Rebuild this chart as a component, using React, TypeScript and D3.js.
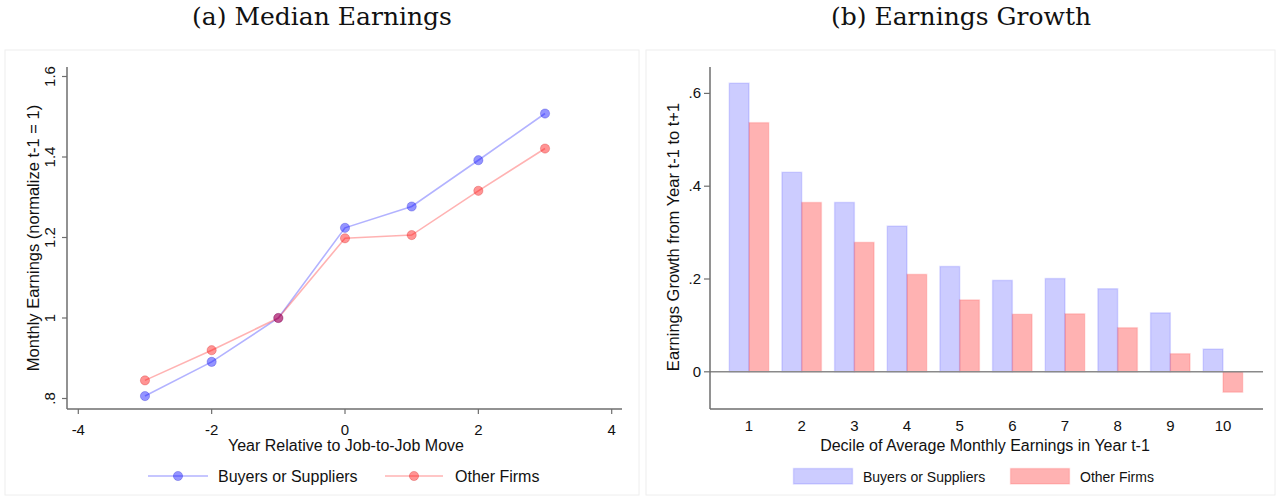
import React from "react";
import * as d3 from "d3";

// ---- Data ----
const years = [-3, -2, -1, 0, 1, 2, 3];
const buyersEarnings = [0.806, 0.891, 1.0, 1.224, 1.277, 1.392, 1.508];
const otherEarnings = [0.845, 0.92, 1.0, 1.198, 1.206, 1.316, 1.421];

const deciles = [1, 2, 3, 4, 5, 6, 7, 8, 9, 10];
const buyersGrowth = [0.622, 0.43, 0.365, 0.314, 0.227, 0.197, 0.201, 0.179, 0.127, 0.049];
const otherGrowth = [0.537, 0.365, 0.279, 0.21, 0.155, 0.124, 0.125, 0.095, 0.039, -0.044];

const leftXTicks = [-4, -2, 0, 2, 4];
const leftYTicks = [0.8, 1, 1.2, 1.4, 1.6];
const leftYTickLabels = [".8", "1", "1.2", "1.4", "1.6"];
const rightYTicks = [0, 0.2, 0.4, 0.6];
const rightYTickLabels = ["0", ".2", ".4", ".6"];

const seriesNames = ["Buyers or Suppliers", "Other Firms"];

// ---- Styles ----
const SANS = "'Liberation Sans', Arial, sans-serif";
const SERIF = "'DejaVu Serif', serif";
const AXIS = "#6e6e6e";
const BLUE_LINE = "rgba(0,0,255,0.3)";
const RED_LINE = "rgba(255,0,0,0.3)";
const BLUE_MARK = "rgba(0,0,255,0.42)";
const RED_MARK = "rgba(255,0,0,0.42)";
const BLUE_FILL = "rgba(0,0,255,0.2)";
const RED_FILL = "rgba(255,0,0,0.3)";
const BLUE_STROKE = "rgba(0,0,255,0.12)";
const RED_STROKE = "rgba(255,0,0,0.12)";

export default function App() {
  // Left panel scales
  const xL = d3.scaleLinear().domain([-4, 4]).range([78.3, 611.7]);
  const yL = d3.scaleLinear().domain([0.8, 1.6]).range([398.5, 76.5]);
  const lineGen = d3
    .line<number>()
    .x((_, i) => xL(years[i]))
    .y((d) => yL(d));

  // Right panel scales
  const xR = d3
    .scaleBand<number>()
    .domain(deciles)
    .range([722.7, 1249.3])
    .paddingInner(0.25)
    .paddingOuter(0.125);
  const xSub = d3.scaleBand<string>().domain(["b", "o"]).range([0, xR.bandwidth()]);
  const yR = d3.scaleLinear().domain([0, 0.6]).range([371.8, 93.4]);

  const lAxisX = 67;
  const lAxisY = 409;
  const rAxisX = 710;
  const rAxisY = 409;

  return (
    <svg
      width={1277}
      height={496}
      style={{ position: "absolute", left: 0, top: 0, background: "#fff" }}
    >
      {/* Titles */}
      <text x={322} y={25} textAnchor="middle" fontFamily={SERIF} fontSize={25} fill="#111">
        (a) Median Earnings
      </text>
      <text x={961} y={25} textAnchor="middle" fontFamily={SERIF} fontSize={25} fill="#111">
        (b) Earnings Growth
      </text>

      {/* Panel frames */}
      <rect x={5} y={50} width={634} height={445} fill="none" stroke="#eeeeee" />
      <rect x={646} y={50} width={629} height={445} fill="none" stroke="#eeeeee" />

      {/* ---------- Left panel ---------- */}
      <line x1={lAxisX} x2={lAxisX} y1={67} y2={lAxisY} stroke={AXIS} strokeWidth={1.5} />
      <line x1={lAxisX} x2={622} y1={lAxisY} y2={lAxisY} stroke={AXIS} strokeWidth={1.5} />
      {leftYTicks.map((t, i) => (
        <g key={"ly" + t}>
          <line x1={lAxisX - 5} x2={lAxisX} y1={yL(t)} y2={yL(t)} stroke={AXIS} strokeWidth={1.2} />
          <text
            transform={`translate(54.5,${yL(t)}) rotate(-90)`}
            textAnchor="middle"
            fontFamily={SANS}
            fontSize={15}
            fill="#111"
          >
            {leftYTickLabels[i]}
          </text>
        </g>
      ))}
      {leftXTicks.map((t) => (
        <g key={"lx" + t}>
          <line x1={xL(t)} x2={xL(t)} y1={lAxisY} y2={lAxisY + 5} stroke={AXIS} strokeWidth={1.2} />
          <text x={xL(t)} y={435} textAnchor="middle" fontFamily={SANS} fontSize={15} fill="#111">
            {t < 0 ? "-" + Math.abs(t) : String(t)}
          </text>
        </g>
      ))}
      <text x={346} y={450.5} textAnchor="middle" fontFamily={SANS} fontSize={16} fill="#111">
        Year Relative to Job-to-Job Move
      </text>
      <text
        transform={`translate(39,238) rotate(-90)`}
        textAnchor="middle"
        fontFamily={SANS}
        fontSize={16.5}
        fill="#111"
      >
        Monthly Earnings (normalize t-1 = 1)
      </text>

      <path d={lineGen(buyersEarnings) || ""} fill="none" stroke={BLUE_LINE} strokeWidth={1.6} />
      <path d={lineGen(otherEarnings) || ""} fill="none" stroke={RED_LINE} strokeWidth={1.6} />
      {buyersEarnings.map((v, i) => (
        <circle key={"bm" + i} cx={xL(years[i])} cy={yL(v)} r={4.6} fill={BLUE_MARK} stroke="rgba(0,0,200,0.25)" strokeWidth={1} />
      ))}
      {otherEarnings.map((v, i) => (
        <circle key={"om" + i} cx={xL(years[i])} cy={yL(v)} r={4.6} fill={RED_MARK} stroke="rgba(200,0,0,0.25)" strokeWidth={1} />
      ))}

      {/* Left legend */}
      <line x1={148} x2={208} y1={476} y2={476} stroke={BLUE_LINE} strokeWidth={1.6} />
      <circle cx={178} cy={476} r={4.6} fill={BLUE_MARK} stroke="rgba(0,0,200,0.25)" />
      <text x={218} y={481.5} fontFamily={SANS} fontSize={16} fill="#111">
        {seriesNames[0]}
      </text>
      <line x1={385} x2={443} y1={476} y2={476} stroke={RED_LINE} strokeWidth={1.6} />
      <circle cx={414} cy={476} r={4.6} fill={RED_MARK} stroke="rgba(200,0,0,0.25)" />
      <text x={455} y={481.5} fontFamily={SANS} fontSize={16} fill="#111">
        {seriesNames[1]}
      </text>

      {/* ---------- Right panel ---------- */}
      {deciles.map((d, i) => {
        const x0 = xR(d) || 0;
        const bv = buyersGrowth[i];
        const ov = otherGrowth[i];
        return (
          <g key={"bar" + d}>
            <rect
              x={x0 + (xSub("b") || 0)}
              y={yR(Math.max(0, bv))}
              width={xSub.bandwidth()}
              height={Math.abs(yR(bv) - yR(0))}
              fill={BLUE_FILL}
              stroke={BLUE_STROKE}
              strokeWidth={1.5}
            />
            <rect
              x={x0 + (xSub("o") || 0)}
              y={yR(Math.max(0, ov))}
              width={xSub.bandwidth()}
              height={Math.abs(yR(ov) - yR(0))}
              fill={RED_FILL}
              stroke={RED_STROKE}
              strokeWidth={1.5}
            />
            <text
              x={x0 + xR.bandwidth() / 2}
              y={431}
              textAnchor="middle"
              fontFamily={SANS}
              fontSize={15}
              fill="#111"
            >
              {d}
            </text>
          </g>
        );
      })}
      <line x1={rAxisX} x2={1263} y1={yR(0)} y2={yR(0)} stroke="#8a8a8a" strokeWidth={1.5} />
      <line x1={rAxisX} x2={rAxisX} y1={67} y2={rAxisY} stroke={AXIS} strokeWidth={1.5} />
      <line x1={rAxisX} x2={1263} y1={rAxisY} y2={rAxisY} stroke={AXIS} strokeWidth={1.5} />
      {rightYTicks.map((t, i) => (
        <g key={"ry" + t}>
          <line x1={rAxisX - 6} x2={rAxisX} y1={yR(t)} y2={yR(t)} stroke={AXIS} strokeWidth={1.2} />
          <text
            x={rAxisX - 9}
            y={yR(t) + 5}
            textAnchor="end"
            fontFamily={SANS}
            fontSize={15}
            fill="#111"
          >
            {rightYTickLabels[i]}
          </text>
        </g>
      ))}
      <text x={985} y={451} textAnchor="middle" fontFamily={SANS} fontSize={16} fill="#111">
        Decile of Average Monthly Earnings in Year t-1
      </text>
      <text
        transform={`translate(679,237) rotate(-90)`}
        textAnchor="middle"
        fontFamily={SANS}
        fontSize={16.5}
        fill="#111"
      >
        Earnings Growth from Year t-1 to t+1
      </text>

      {/* Right legend */}
      <rect x={793.5} y={468.5} width={59} height={15.5} fill={BLUE_FILL} stroke={BLUE_STROKE} strokeWidth={1.5} />
      <text x={863} y={481.5} fontFamily={SANS} fontSize={14} fill="#111">
        {seriesNames[0]}
      </text>
      <rect x={1010.5} y={468.5} width={59} height={15.5} fill={RED_FILL} stroke={RED_STROKE} strokeWidth={1.5} />
      <text x={1080} y={481.5} fontFamily={SANS} fontSize={14} fill="#111">
        {seriesNames[1]}
      </text>
    </svg>
  );
}
